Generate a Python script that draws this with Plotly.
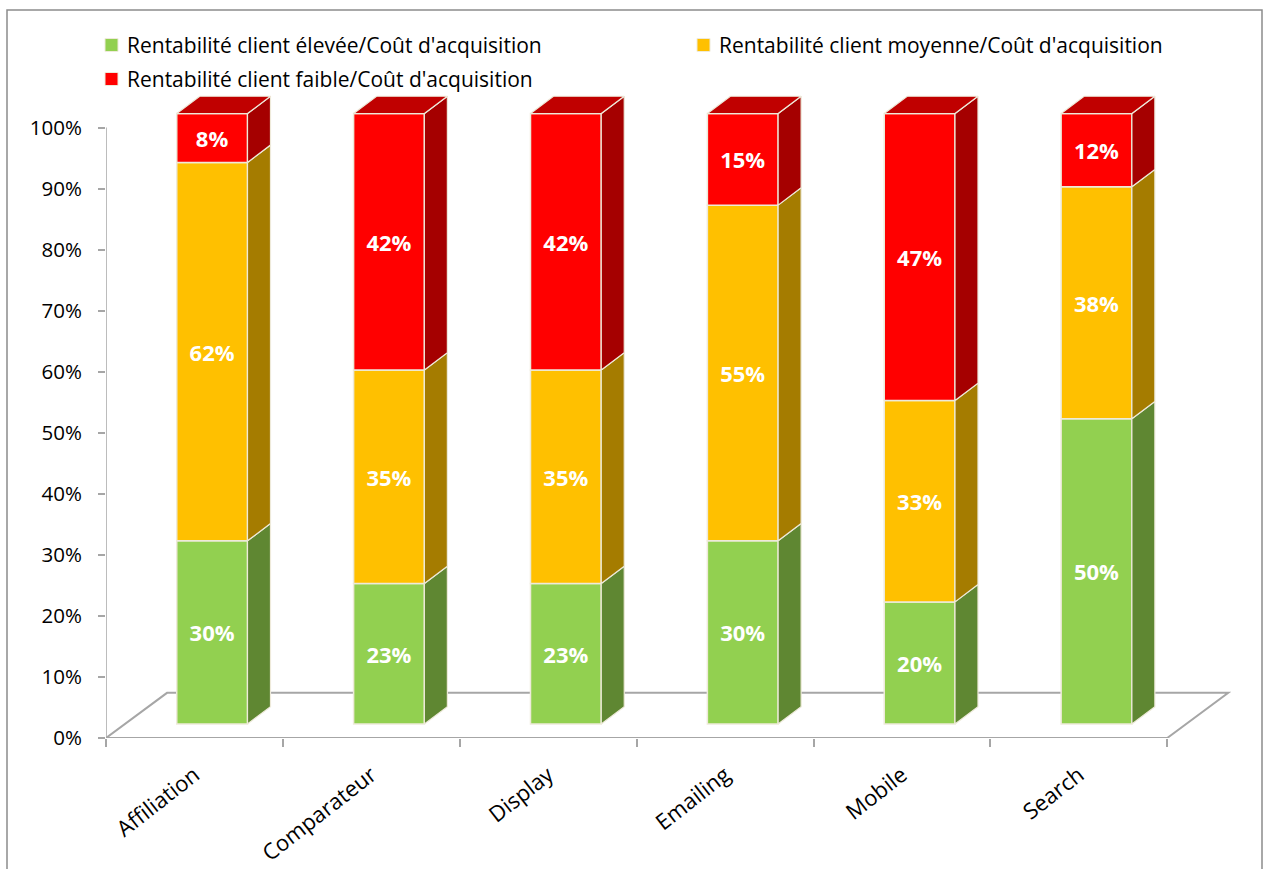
import plotly.graph_objects as go

# ---------------- data ----------------
categories = ["Affiliation", "Comparateur", "Display", "Emailing", "Mobile", "Search"]
high_vals = [30, 23, 23, 30, 20, 50]
mid_vals = [62, 35, 35, 55, 33, 38]
low_vals = [8, 42, 42, 15, 47, 12]
series_names = [
    "Rentabilité client élevée/Coût d'acquisition",
    "Rentabilité client moyenne/Coût d'acquisition",
    "Rentabilité client faible/Coût d'acquisition",
]
y_tick_vals = [0, 10, 20, 30, 40, 50, 60, 70, 80, 90, 100]
y_tick_text = [f"{v}%" for v in y_tick_vals]

# ---------------- style ----------------
FONT = "Open Sans"
front_colors = ["#92D050", "#FFC000", "#FF0000"]
side_colors = ["#5F8732", "#A57C00", "#A50000"]
top_color = "#C00000"
edge_color = "#EEEADA"
axis_grey = "#A6A6A6"

FRONT_L = 0.40      # front face left offset within category (units)
FRONT_W = 0.40      # front face width (units)
LIFT = 2.3          # vertical lift of front face (percent)
DX = 0.13           # depth x offset (units)
DY = 2.84           # depth y offset (percent)
FLOOR_X = 0.345
FLOOR_Y = 7.4

W, H = 1265, 869
ML, MR, MT, MB = 106, 27, 91, 131
PW = W - ML - MR
PH = H - MT - MB

# legend layout (pixel positions of marker left edge / row centre)
legend_slots = [(105, 45), (697, 45), (105, 79)]
LEG_MARK = 13
LEG_GAP = 7


def px_to_paper_x(px):
    return (px - ML) / PW


def px_to_paper_y(py):
    return (H - MB - py) / PH


series_vals = [high_vals, mid_vals, low_vals]
n = len(categories)

fig = go.Figure()

# cumulative bases
bases = []
cum = [0] * n
for vals in series_vals:
    bases.append(list(cum))
    cum = [c + v for c, v in zip(cum, vals)]

# front faces as bars
for k, vals in enumerate(series_vals):
    fig.add_trace(go.Bar(
        x=[i + FRONT_L + FRONT_W / 2 for i in range(n)],
        y=vals,
        base=[b + LIFT for b in bases[k]],
        width=FRONT_W,
        name=series_names[k],
        marker=dict(color=front_colors[k], line=dict(color=edge_color, width=1.5)),
        text=[f"{v}%" for v in vals],
        textposition="inside",
        insidetextanchor="middle",
        textangle=0,
        constraintext="none",
        textfont=dict(family=FONT, size=22, color="white", weight="bold"),
        hoverinfo="skip",
        showlegend=False,
    ))

# side faces
for k, vals in enumerate(series_vals):
    xs, ys = [], []
    for i in range(n):
        xr = i + FRONT_L + FRONT_W
        y0 = bases[k][i] + LIFT
        y1 = y0 + vals[i]
        xs += [xr, xr, xr + DX, xr + DX, xr, None]
        ys += [y0, y1, y1 + DY, y0 + DY, y0, None]
    fig.add_trace(go.Scatter(
        x=xs, y=ys, mode="lines", fill="toself",
        fillcolor=side_colors[k],
        line=dict(color=edge_color, width=1.2),
        showlegend=False, hoverinfo="skip",
    ))

# top faces (top segment)
xs, ys = [], []
for i in range(n):
    xl = i + FRONT_L
    xr = xl + FRONT_W
    yt = cum[i] + LIFT
    xs += [xl, xr, xr + DX, xl + DX, xl, None]
    ys += [yt, yt, yt + DY, yt + DY, yt, None]
fig.add_trace(go.Scatter(
    x=xs, y=ys, mode="lines", fill="toself",
    fillcolor=top_color,
    line=dict(color=edge_color, width=1.2),
    showlegend=False, hoverinfo="skip",
))

shapes = []
annotations = []
# floor
shapes.append(dict(
    type="path", xref="x", yref="y", layer="below",
    path=f"M 0,0 L {n},0 L {n + FLOOR_X},{FLOOR_Y} L {FLOOR_X},{FLOOR_Y} Z",
    line=dict(color=axis_grey, width=2),
))
# y axis line
shapes.append(dict(
    type="line", xref="x", yref="y", x0=0, x1=0, y0=0, y1=100,
    line=dict(color=axis_grey, width=1.5), layer="below",
))
# chart border
shapes.append(dict(
    type="rect", xref="paper", yref="paper",
    x0=px_to_paper_x(7), x1=px_to_paper_x(1262),
    y0=px_to_paper_y(870), y1=px_to_paper_y(10),
    line=dict(color="#8C8C8C", width=1.5), fillcolor="rgba(0,0,0,0)",
))

# legend (markers + text)
for k, name in enumerate(series_names):
    mx, my = legend_slots[k]
    shapes.append(dict(
        type="rect", xref="paper", yref="paper",
        x0=px_to_paper_x(mx), x1=px_to_paper_x(mx + LEG_MARK),
        y0=px_to_paper_y(my + LEG_MARK / 2), y1=px_to_paper_y(my - LEG_MARK / 2),
        fillcolor=front_colors[k], line=dict(color="#EEEADA", width=1),
    ))
    annotations.append(dict(
        xref="paper", yref="paper",
        x=px_to_paper_x(mx + LEG_MARK + LEG_GAP), y=px_to_paper_y(my),
        xanchor="left", yanchor="middle",
        text=name, showarrow=False,
        font=dict(family=FONT, size=21, color="black"),
    ))

fig.update_layout(
    width=W, height=H,
    margin=dict(l=ML, r=MR, t=MT, b=MB),
    paper_bgcolor="white", plot_bgcolor="white",
    barmode="overlay",
    font=dict(family=FONT, size=20.5, color="black"),
    shapes=shapes,
    annotations=annotations,
    showlegend=False,
    xaxis=dict(
        range=[0, 6.4],
        automargin=False,
        tickmode="array",
        tickvals=[i + 0.5 for i in range(n)],
        ticktext=categories,
        tickangle=-38,
        ticks="",
        ticklabelstandoff=19,
        showgrid=False, zeroline=False, showline=False,
        tickfont=dict(family=FONT, size=22, color="black"),
        minor=dict(tickmode="array", tickvals=list(range(n + 1)),
                   ticks="outside", ticklen=8, tickcolor=axis_grey, tickwidth=1.5,
                   showgrid=False),
        fixedrange=True,
    ),
    yaxis=dict(
        range=[0, 106],
        automargin=False,
        tickmode="array",
        tickvals=y_tick_vals,
        ticktext=y_tick_text,
        ticks="outside", ticklen=7, tickcolor=axis_grey, tickwidth=1.5,
        ticklabelstandoff=12,
        showgrid=False, zeroline=False, showline=False,
        tickfont=dict(family=FONT, size=20.5, color="black"),
        fixedrange=True,
    ),
)

fig.write_html("out.html")
